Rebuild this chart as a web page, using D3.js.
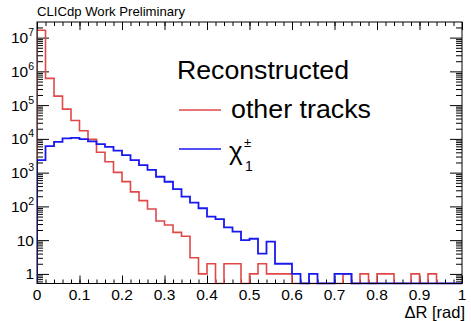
<!DOCTYPE html>
<html>
<head>
<meta charset="utf-8">
<script src="https://cdn.jsdelivr.net/npm/d3@7"></script>
<style>
  body { margin: 0; background: #fff; }
  svg { display: block; font-family: "Liberation Sans", Arial, Helvetica, sans-serif; }
</style>
</head>
<body>
<script>
// bin edges: 50 bins of 0.02 rad from 0 to 1
var binWidth = 0.02
var nBins = 50

// other tracks (red)
var otherTracks = [1.66e7, 6.2e5, 1.85e5, 7.6e4, 3.5e4, 1.74e4, 9.7e3, 4.0e3, 2.1e3, 1.02e3,
  540, 270, 148, 84, 37, 28, 17, 13, 3, 1,
  2, 0, 2, 2, 0, 1, 2, 1, 1, 1,
  0, 0, 0, 0, 0, 0, 1, 0, 1, 0,
  1, 1, 0, 0, 1, 0, 1, 0, 0, 0]

// chargino (blue)
var chargino = [2350, 6100, 8200, 10300, 10700, 9800, 8400, 7000, 5800, 4500,
  3300, 2350, 1670, 1200, 755, 537, 325, 194, 129, 88,
  50, 42, 24, 18, 10, 11, 4, 9, 2, 2,
  1, 0, 1, 0, 0, 1, 1, 0, 0, 0,
  0, 0, 0, 0, 0, 0, 0, 0, 0, 0]

var xMajor = [0, 0.1, 0.2, 0.3, 0.4, 0.5, 0.6, 0.7, 0.8, 0.9, 1]
var xLabels = ["0", "0.1", "0.2", "0.3", "0.4", "0.5", "0.6", "0.7", "0.8", "0.9", "1"]
var yMajor = [1, 10, 100, 1e3, 1e4, 1e5, 1e6, 1e7]
var yExp = [0, 1, 2, 3, 4, 5, 6, 7]

var W = 471, H = 321
var padL = 37, padR = 462, padT = 22, padB = 283.5

var svg = d3.select("body").append("svg")
  .attr("width", W).attr("height", H)

var x = d3.scaleLinear().domain([0, 1]).range([padL, padR])
var y = d3.scaleLog().domain([0.52, 2.9e7]).range([padB, padT])

// minor ticks
var xMinor = d3.range(0, nBins + 1).map(function (i) { return +(i * binWidth).toFixed(2) })
var yMinor = []
for (var e = -1; e <= 7; e++) {
  for (var m = 2; m <= 9; m++) {
    var v = m * Math.pow(10, e)
    if (v > 0.52 && v < 2.9e7) yMinor.push(v)
  }
}

function styleAxis(g) {
  g.select(".domain").remove()
  g.selectAll("line").attr("stroke", "#000").attr("stroke-width", 1)
  g.selectAll("text").remove()
}

// x axes (bottom + top)
svg.append("g").attr("transform", "translate(0," + padB + ")")
  .call(d3.axisBottom(x).tickValues(xMinor).tickSize(-4)).call(styleAxis)
svg.append("g").attr("transform", "translate(0," + padB + ")")
  .call(d3.axisBottom(x).tickValues(xMajor).tickSize(-8)).call(styleAxis)
svg.append("g").attr("transform", "translate(0," + padT + ")")
  .call(d3.axisTop(x).tickValues(xMinor).tickSize(-4)).call(styleAxis)
svg.append("g").attr("transform", "translate(0," + padT + ")")
  .call(d3.axisTop(x).tickValues(xMajor).tickSize(-8)).call(styleAxis)

// y axes (left + right)
svg.append("g").attr("transform", "translate(" + padL + ",0)")
  .call(d3.axisLeft(y).tickValues(yMinor).tickSize(-6)).call(styleAxis)
svg.append("g").attr("transform", "translate(" + padL + ",0)")
  .call(d3.axisLeft(y).tickValues(yMajor).tickSize(-12)).call(styleAxis)
svg.append("g").attr("transform", "translate(" + padR + ",0)")
  .call(d3.axisRight(y).tickValues(yMinor).tickSize(-6)).call(styleAxis)
svg.append("g").attr("transform", "translate(" + padR + ",0)")
  .call(d3.axisRight(y).tickValues(yMajor).tickSize(-12)).call(styleAxis)

// histograms
svg.append("clipPath").attr("id", "plotclip")
  .append("rect").attr("x", padL).attr("y", padT)
  .attr("width", padR - padL).attr("height", padB - padT + 1)

function stepPoints(vals) {
  var pts = [[x(0), padB]]
  vals.forEach(function (v, i) {
    var yy = v > 0 ? y(v) : padB
    pts.push([x(i * binWidth), yy])
    pts.push([x((i + 1) * binWidth), yy])
  })
  pts.push([x(1), padB])
  return pts
}

var line = d3.line()

svg.append("path")
  .attr("clip-path", "url(#plotclip)")
  .attr("d", line(stepPoints(otherTracks)))
  .attr("fill", "none").attr("stroke", "#e04848").attr("stroke-width", 1.6)

svg.append("path")
  .attr("clip-path", "url(#plotclip)")
  .attr("d", line(stepPoints(chargino)))
  .attr("fill", "none").attr("stroke", "#1818f0").attr("stroke-width", 1.8)

// frame
svg.append("rect")
  .attr("x", padL).attr("y", padT)
  .attr("width", padR - padL).attr("height", padB - padT)
  .attr("fill", "none").attr("stroke", "#000").attr("stroke-width", 1)

// x labels
svg.selectAll("text.xl").data(xMajor).enter().append("text")
  .attr("class", "xl")
  .attr("x", function (d) { return x(d) })
  .attr("y", 300)
  .attr("text-anchor", "middle")
  .attr("font-size", 15.5)
  .text(function (d, i) { return xLabels[i] })

// y labels
var yl = svg.selectAll("text.yl").data(yMajor).enter().append("text")
  .attr("class", "yl")
  .attr("x", 34)
  .attr("y", function (d) { return y(d) + 5.5 })
  .attr("text-anchor", "end")
  .attr("font-size", 15.5)
yl.each(function (d, i) {
  var t = d3.select(this)
  var ex = yExp[i]
  if (ex === 0) t.text("1")
  else if (ex === 1) t.text("10")
  else {
    t.append("tspan").text("10")
    t.append("tspan").attr("font-size", 10.5).attr("dy", -7).text(ex)
  }
})

// axis title
svg.append("text")
  .attr("x", 465).attr("y", 318)
  .attr("text-anchor", "end")
  .attr("font-size", 16.5)
  .text("ΔR [rad]")

// header
svg.append("text")
  .attr("x", 37).attr("y", 16)
  .attr("font-size", 13)
  .attr("textLength", 148).attr("lengthAdjust", "spacingAndGlyphs")
  .text("CLICdp Work Preliminary")

// legend
var legend = svg.append("g")
legend.append("text").attr("x", 177).attr("y", 79)
  .attr("font-size", 26).attr("textLength", 172).attr("lengthAdjust", "spacingAndGlyphs")
  .text("Reconstructed")
legend.append("line").attr("x1", 179).attr("x2", 221).attr("y1", 110).attr("y2", 110)
  .attr("stroke", "#e04848").attr("stroke-width", 1.6)
legend.append("text").attr("x", 231).attr("y", 118)
  .attr("font-size", 26).attr("textLength", 140).attr("lengthAdjust", "spacingAndGlyphs")
  .text("other tracks")
legend.append("line").attr("x1", 179).attr("x2", 221).attr("y1", 149).attr("y2", 149)
  .attr("stroke", "#1818f0").attr("stroke-width", 1.6)
legend.append("text").attr("x", 229).attr("y", 160)
  .attr("font-size", 26).text("χ")
legend.append("text").attr("x", 244).attr("y", 147)
  .attr("font-size", 13).text("±")
legend.append("text").attr("x", 245).attr("y", 171)
  .attr("font-size", 14).text("1")
</script>
</body>
</html>
